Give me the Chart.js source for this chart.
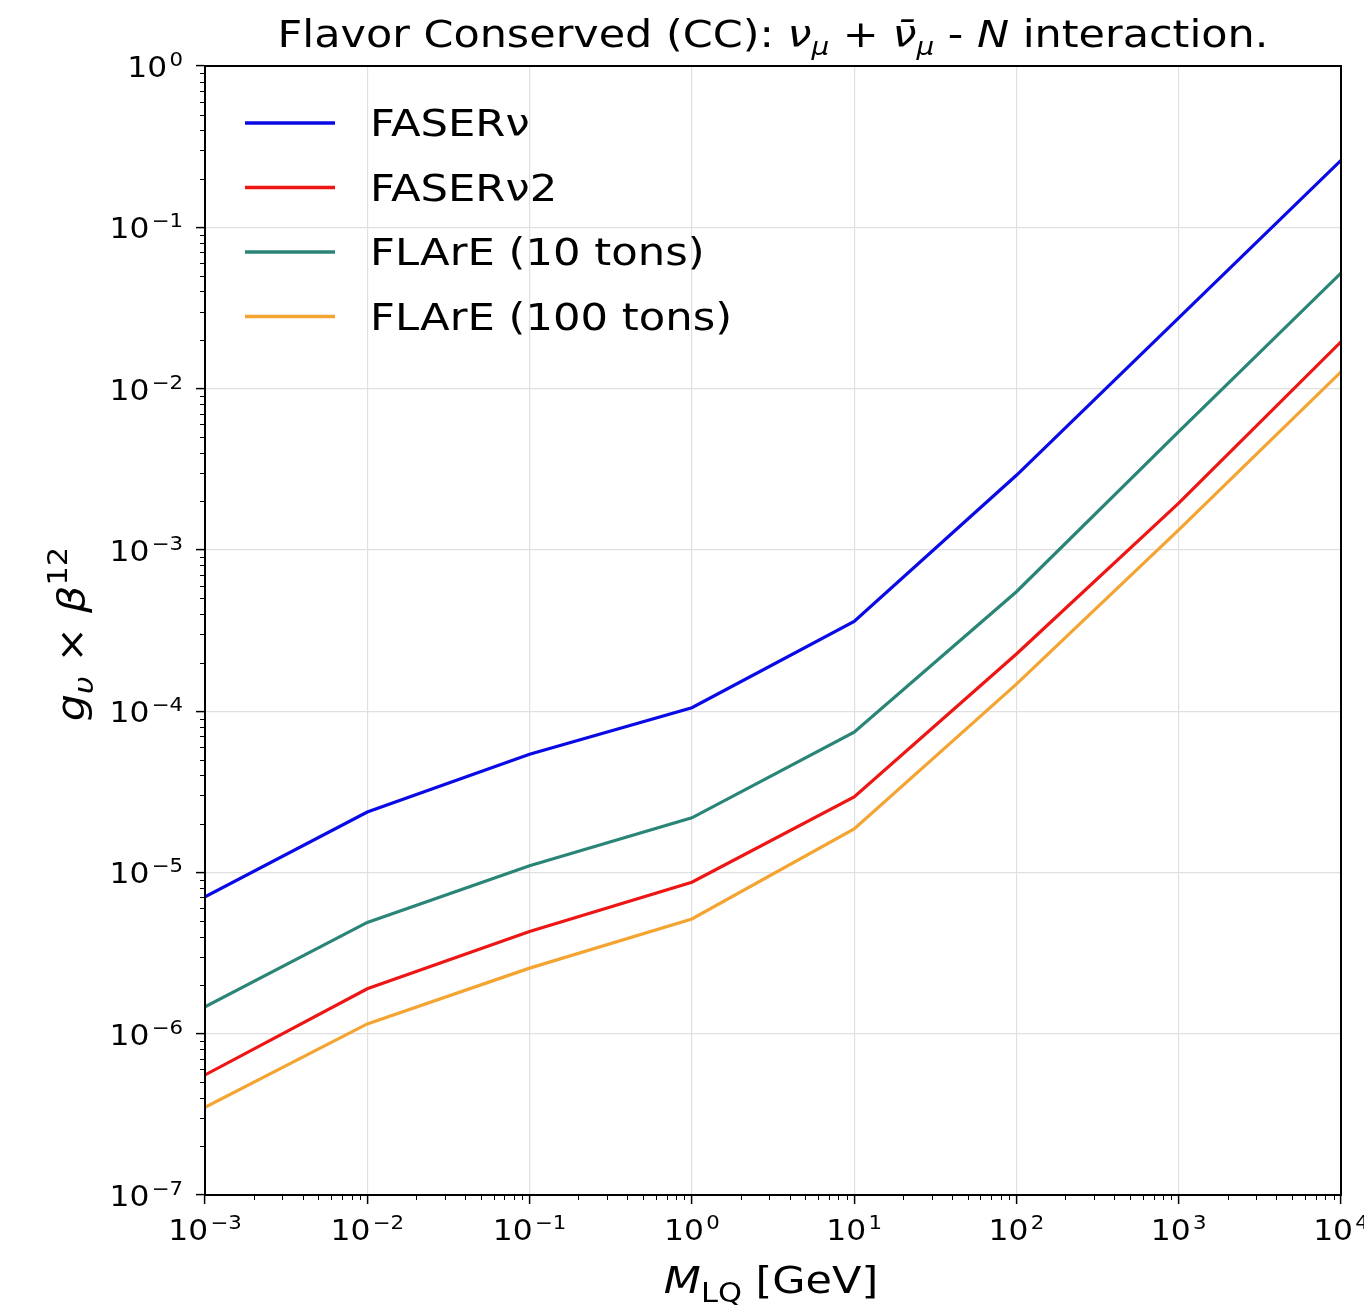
<!DOCTYPE html>
<html>
<head>
<meta charset="utf-8">
<script src="https://cdn.jsdelivr.net/npm/chart.js@4.4.0/dist/chart.umd.min.js"></script>
<style>
  html, body { margin: 0; padding: 0; background: #fff; }
  #wrap { width: 1364px; height: 1311px; }
</style>
</head>
<body>
<div id="wrap"><canvas id="chart" width="1364" height="1311"></canvas></div>
<script>
// ── Data ──────────────────────────────────────
const massGeV = [1e-3, 1e-2, 1e-1, 1e0, 1e1, 1e2, 1e3, 1e4];
const faserNu   = [7.05e-6, 2.37e-5, 5.4e-5, 1.05e-4, 3.6e-4, 2.9e-3, 2.74e-2, 0.26];
const faserNu2  = [5.55e-7, 1.9e-6, 4.3e-6, 8.7e-6, 2.94e-5, 2.26e-4, 1.95e-3, 1.95e-2];
const flare10   = [1.47e-6, 4.9e-6, 1.1e-5, 2.18e-5, 7.4e-5, 5.5e-4, 5.4e-3, 5.2e-2];
const flare100  = [3.5e-7, 1.15e-6, 2.55e-6, 5.15e-6, 1.86e-5, 1.47e-4, 1.33e-3, 1.27e-2];
const seriesLabels = ['FASERν', 'FASERν2', 'FLArE (10 tons)', 'FLArE (100 tons)'];
const xTicks = [1e-3, 1e-2, 1e-1, 1e0, 1e1, 1e2, 1e3, 1e4];
const yTicks = [1e-7, 1e-6, 1e-5, 1e-4, 1e-3, 1e-2, 1e-1, 1e0];

const COLORS = ['#0a0ae6', '#ee1515', '#2a8577', '#f4a431'];
const FONT = "'DejaVu Sans', sans-serif";

function toPoints(arr) {
    return massGeV.map((x, i) => ({ x: x, y: arr[i] }));
}

// ── Helpers for mixed-style text (sub/superscripts) ──
function runsWidth(ctx, runs) {
    let w = 0;
    runs.forEach(r => { ctx.font = r.font; w += ctx.measureText(r.t).width + (r.gap || 0); });
    return w;
}
function drawRuns(ctx, runs, x, y, align, sx) {
    sx = sx || 1;
    const total = runsWidth(ctx, runs);
    ctx.save();
    ctx.translate(x, y);
    ctx.scale(sx, 1);
    let cx = align === 'center' ? -total / 2 : (align === 'right' ? -total : 0);
    runs.forEach(r => {
        ctx.font = r.font;
        cx += r.gap || 0;
        ctx.fillText(r.t, cx, r.dy || 0);
        cx += ctx.measureText(r.t).width;
    });
    ctx.restore();
}
function powRuns(v) {
    const e = Math.round(Math.log10(v));
    return [
        { t: '10', font: '28px ' + FONT },
        { t: (e < 0 ? '\u2212' : '') + Math.abs(e), font: '19px ' + FONT, dy: -11, gap: 2 }
    ];
}

// ── Decorations: frame, minor ticks, tick labels, legend, titles ──
const decor = {
    id: 'decor',
    afterDraw(chart) {
        const ctx = chart.ctx;
        const a = chart.chartArea;
        const xs = chart.scales.x, ys = chart.scales.y;
        ctx.save();

        // minor ticks
        ctx.strokeStyle = '#000';
        ctx.lineWidth = 1;
        for (let e = -3; e < 4; e++) {
            for (let k = 2; k <= 9; k++) {
                const px = Math.round(xs.getPixelForValue(k * Math.pow(10, e))) + 0.5;
                ctx.beginPath(); ctx.moveTo(px, a.bottom); ctx.lineTo(px, a.bottom + 5); ctx.stroke();
            }
        }
        for (let e = -7; e < 0; e++) {
            for (let k = 2; k <= 9; k++) {
                const py = Math.round(ys.getPixelForValue(k * Math.pow(10, e))) + 0.5;
                ctx.beginPath(); ctx.moveTo(a.left, py); ctx.lineTo(a.left - 5, py); ctx.stroke();
            }
        }

        // frame
        ctx.lineWidth = 2;
        ctx.strokeRect(a.left, a.top, a.right - a.left, a.bottom - a.top);

        ctx.fillStyle = '#000';
        ctx.textBaseline = 'alphabetic';

        // tick labels
        xTicks.forEach(v => {
            drawRuns(ctx, powRuns(v), xs.getPixelForValue(v), a.bottom + 45, 'center', 1.12);
        });
        yTicks.forEach(v => {
            drawRuns(ctx, powRuns(v), a.left - 22, ys.getPixelForValue(v) + 11, 'right', 1.12);
        });

        // legend
        chart.data.datasets.forEach((d, i) => {
            const ly = 123 + i * 64.5;
            ctx.strokeStyle = d.borderColor;
            ctx.lineWidth = 3.5;
            ctx.beginPath(); ctx.moveTo(245, ly); ctx.lineTo(335, ly); ctx.stroke();
            ctx.fillStyle = '#000';
            drawRuns(ctx, [{ t: d.label, font: '37px ' + FONT }], 370, ly + 13, 'left', 1.17);
        });

        // title
        const tf = '37px ' + FONT, ti = 'italic 37px ' + FONT, ts = 'italic 24px ' + FONT;
        drawRuns(ctx, [
            { t: 'Flavor Conserved (CC): ', font: tf },
            { t: 'ν', font: ti }, { t: 'μ', font: ts, dy: 8 },
            { t: ' + ', font: tf },
            { t: 'ν̄', font: ti }, { t: 'μ', font: ts, dy: 8 },
            { t: ' - ', font: tf },
            { t: 'N', font: ti },
            { t: ' interaction.', font: tf }
        ], 773, 47, 'center', 1.16);

        // x label
        drawRuns(ctx, [
            { t: 'M', font: 'italic 38px ' + FONT },
            { t: 'LQ', font: '27px ' + FONT, dy: 9 },
            { t: ' [GeV]', font: '38px ' + FONT }
        ], 771, 1293, 'center', 1.13);

        // y label (rotated)
        ctx.save();
        ctx.translate(84, 634);
        ctx.rotate(-Math.PI / 2);
        drawRuns(ctx, [
            { t: 'g', font: 'italic 38px ' + FONT },
            { t: 'υ', font: 'italic 27px ' + FONT, dy: 9 },
            { t: ' × ', font: '38px ' + FONT },
            { t: 'β', font: 'italic 38px ' + FONT },
            { t: '12', font: '27px ' + FONT, dy: -17 }
        ], 0, 0, 'center', 1.13);
        ctx.restore();

        ctx.restore();
    }
};

// ── Chart ─────────────────────────────────────
const ctx = document.getElementById('chart');
new Chart(ctx, {
    type: 'line',
    data: {
        datasets: [faserNu, faserNu2, flare10, flare100].map((arr, i) => ({
            label: seriesLabels[i],
            data: toPoints(arr),
            borderColor: COLORS[i],
            backgroundColor: COLORS[i],
            borderWidth: 3.2,
            pointRadius: 0,
            tension: 0,
            fill: false
        }))
    },
    options: {
        responsive: false,
        animation: false,
        layout: { padding: { top: 66, right: 23, left: 0, bottom: 0 } },
        plugins: {
            legend: { display: false },
            tooltip: { enabled: false }
        },
        scales: {
            x: {
                type: 'logarithmic',
                min: 1e-3, max: 1e4,
                afterBuildTicks(s) { s.ticks = xTicks.map(v => ({ value: v })); },
                afterFit(s) { s.height = 116; s.paddingLeft = 0; s.paddingRight = 0; },
                ticks: { display: false, autoSkip: false },
                grid: { color: '#e0e0e0', lineWidth: 1.2, tickColor: '#000', tickLength: 9, tickWidth: 1.5 },
                border: { display: true, color: '#000', width: 2 }
            },
            y: {
                type: 'logarithmic',
                min: 1e-7, max: 1e0,
                afterBuildTicks(s) { s.ticks = yTicks.map(v => ({ value: v })); },
                afterFit(s) { s.width = 205; s.paddingTop = 0; s.paddingBottom = 0; },
                ticks: { display: false, autoSkip: false },
                grid: { color: '#e0e0e0', lineWidth: 1.2, tickColor: '#000', tickLength: 9, tickWidth: 1.5 },
                border: { display: true, color: '#000', width: 2 }
            }
        }
    },
    plugins: [decor]
});
</script>
</body>
</html>
